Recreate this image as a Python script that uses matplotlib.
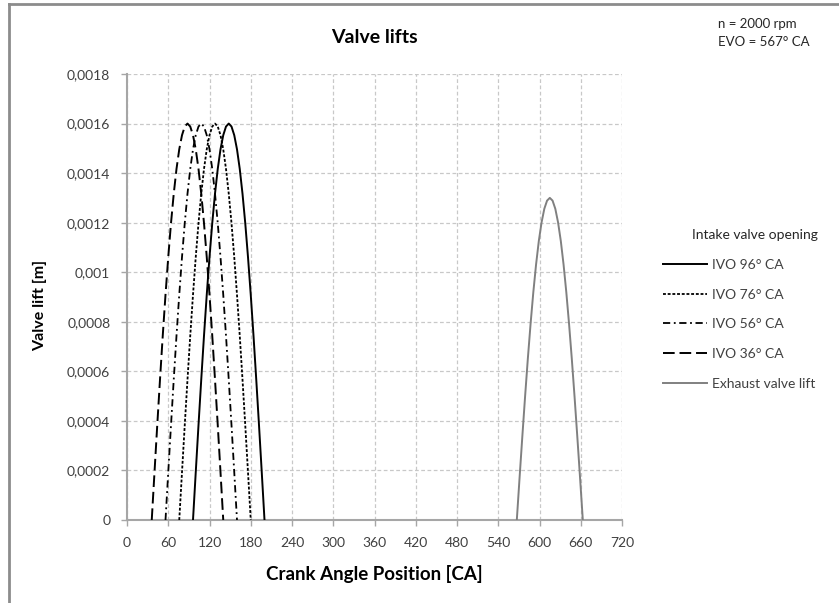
import matplotlib
matplotlib.use("Agg")
import matplotlib.pyplot as plt
from matplotlib.lines import Line2D
from matplotlib.ticker import FuncFormatter

plt.rcParams['font.family'] = ['Lato', 'DejaVu Sans']

# data
ivo_angles = [96, 76, 56, 36]
ivo_labels = ["IVO 96° CA", "IVO 76° CA", "IVO 56° CA", "IVO 36° CA"]
intake_offset = list(range(0, 105, 4))
intake_lift = [0, 0.000193, 0.000383, 0.000567, 0.000744, 0.000909, 0.001061,
               0.001198, 0.001317, 0.001417, 0.001496, 0.001553, 0.001588, 0.0016,
               0.001588, 0.001553, 0.001496, 0.001417, 0.001317, 0.001198,
               0.001061, 0.000909, 0.000744, 0.000567, 0.000383, 0.000193, 0]

evo_angle = 567
exhaust_offset = list(range(0, 97, 4))
exhaust_lift = [0, 0.000170, 0.000336, 0.000497, 0.00065, 0.000791, 0.000919,
                0.001031, 0.001126, 0.001201, 0.001256, 0.001289, 0.0013,
                0.001289, 0.001256, 0.001201, 0.001126, 0.001031, 0.000919,
                0.000791, 0.00065, 0.000497, 0.000336, 0.000170, 0]

x_ticks = list(range(0, 721, 60))
y_ticks = [0, 0.0002, 0.0004, 0.0006, 0.0008, 0.001, 0.0012, 0.0014, 0.0016, 0.0018]

styles = [
    dict(color='black', lw=1.4, linestyle='-'),
    dict(color='black', lw=1.3, linestyle=(0, (1.6, 1.0))),
    dict(color='black', lw=1.3, linestyle=(0, (4, 2, 1, 2))),
    dict(color='black', lw=1.4, linestyle=(0, (6, 2.5))),
]
exh_style = dict(color='#808080', lw=1.4, linestyle='-')

W, H = 839, 603
fig = plt.figure(figsize=(W / 100, H / 100), dpi=100)
ax = fig.add_axes([127 / W, 1 - 520 / H, (622 - 127) / W, (520 - 74) / H])

for ang, st in zip(ivo_angles, styles):
    ax.plot([ang + o for o in intake_offset], intake_lift, **st, zorder=3)
ax.plot([evo_angle + o for o in exhaust_offset], exhaust_lift, **exh_style, zorder=3)

ax.set_xlim(0, 720)
ax.set_ylim(0, 0.0018)
ax.set_xticks(x_ticks)
ax.set_yticks(y_ticks)
ax.yaxis.set_major_formatter(FuncFormatter(lambda v, p: ('%g' % round(v, 6)).replace('.', ',') if v else '0'))

ax.grid(True, color='#c8c8c8', linestyle=(0, (3, 2)), linewidth=0.9)
for s in ['top', 'right']:
    ax.spines[s].set_visible(False)
for s in ['left', 'bottom']:
    ax.spines[s].set_color('#a6a6a6')
    ax.spines[s].set_linewidth(1.5)
ax.tick_params(axis='both', colors='#a6a6a6', length=4, width=1, labelcolor='#404040', labelsize=10)
ax.tick_params(axis='x', pad=8)
ax.tick_params(axis='y', pad=8)

ax.set_title("Valve lifts", fontsize=14, fontweight='bold', pad=22)
ax.set_xlabel("Crank Angle Position [CA]", fontsize=13.5, fontweight='bold', labelpad=12)
ax.set_ylabel("Valve lift [m]", fontsize=11.5, fontweight='bold')
ax.yaxis.set_label_coords(-0.162, 0.48)

fig.text(718 / W, 1 - 24 / H, "n = 2000 rpm", fontsize=9.5, va='center', ha='left', color='#262626')
fig.text(718 / W, 1 - 42 / H, "EVO = 567° CA", fontsize=9.5, va='center', ha='left', color='#262626')
fig.text(692 / W, 1 - 235 / H, "Intake valve opening", fontsize=10, va='center', ha='left', color='#262626')

handles = [Line2D([], [], **st) for st in styles] + [Line2D([], [], **exh_style)]
labels = ivo_labels + ["Exhaust valve lift"]
fig.legend(handles, labels, loc='upper left', bbox_to_anchor=(663 / W, 1 - 259 / H),
           frameon=False, fontsize=10, handlelength=3.2, handletextpad=0.3,
           labelspacing=1.27, borderpad=0, borderaxespad=0, labelcolor='#404040')

# chart area border (cropped at right and bottom)
fig.add_artist(Line2D([9 / W, 9 / W], [0, 1 - 4 / H], color='#8c8c8c', lw=2))
fig.add_artist(Line2D([9 / W, 1], [1 - 4 / H, 1 - 4 / H], color='#8c8c8c', lw=2))

fig.savefig("out.png", dpi=100)
